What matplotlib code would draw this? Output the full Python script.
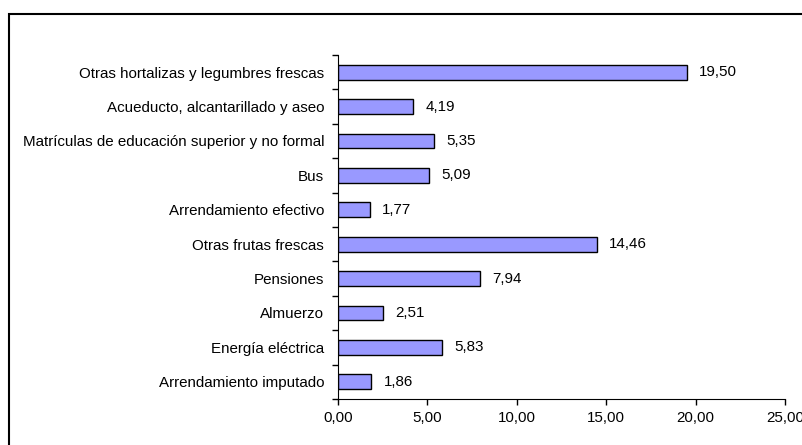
import matplotlib
matplotlib.use('Agg')
import matplotlib.pyplot as plt
from matplotlib.patches import Rectangle
import numpy as np

plt.rcParams['font.family'] = ['Liberation Sans', 'DejaVu Sans']

categorias = ['Arrendamiento imputado', 'Energía eléctrica', 'Almuerzo', 'Pensiones',
              'Otras frutas frescas', 'Arrendamiento efectivo', 'Bus',
              'Matrículas de educación superior y no formal',
              'Acueducto, alcantarillado y aseo', 'Otras hortalizas y legumbres frescas']
valores = [1.86, 5.83, 2.51, 7.94, 14.46, 1.77, 5.09, 5.35, 4.19, 19.50]
xticks = [0, 5, 10, 15, 20, 25]

def coma(v):
    return ('%.2f' % v).replace('.', ',')

fs = 10.9
fig = plt.figure(figsize=(8.03, 4.45), dpi=100)
ax = fig.add_axes([0.4209, 0.1034, 0.5567, 0.773])

y = np.arange(len(categorias))
ax.barh(y, valores, height=0.43, color='#9999FF', edgecolor='black', linewidth=1)
for yi, v in zip(y, valores):
    ax.annotate(coma(v), (v, yi), xytext=(9, 0), textcoords='offset points',
                va='center', ha='left', fontsize=fs)

ax.set_xlim(0, 25)
ax.set_ylim(-0.5, len(categorias) - 0.5)
ax.set_xticks(xticks)
ax.set_xticklabels([coma(v) for v in xticks], fontsize=fs)
ax.set_yticks(y)
ax.set_yticklabels(categorias, fontsize=fs)
ax.set_yticks(np.arange(-0.5, len(categorias)), minor=True)
ax.tick_params(axis='y', which='major', length=0, pad=10)
ax.tick_params(axis='y', which='minor', length=4, width=1, direction='out')
ax.tick_params(axis='x', length=4, width=1, direction='out', pad=5)
ax.spines['top'].set_visible(False)
ax.spines['right'].set_visible(False)

# marco exterior (solo lados izquierdo y superior visibles)
fig.patches.append(Rectangle((9.5 / 803, -0.1), 1.2, (445 - 13.5) / 445 + 0.1,
                             transform=fig.transFigure, fill=False,
                             edgecolor='black', linewidth=1.5))

fig.savefig('out.png', dpi=100)
